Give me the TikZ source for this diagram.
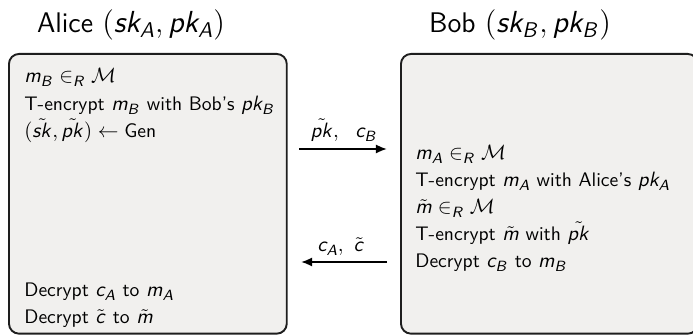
\RequirePackage{fix-cm}
\documentclass[tikz,border=0pt]{standalone}
\usepackage{amsmath}
\usetikzlibrary{arrows.meta}
\renewcommand\familydefault{\sfdefault}
% sans-serif italic letters in formulas, set a little larger than the text
\DeclareMathSizes{10.3}{10.9}{7.8}{5.8}
\DeclareMathSizes{14.9}{16}{11.2}{8}
\DeclareSymbolFont{sfit}{OT1}{cmss}{m}{sl}
\DeclareMathSymbol{A}{\mathalpha}{sfit}{`A}
\DeclareMathSymbol{B}{\mathalpha}{sfit}{`B}
\DeclareMathSymbol{R}{\mathalpha}{sfit}{`R}
\DeclareMathSymbol{c}{\mathalpha}{sfit}{`c}
\DeclareMathSymbol{k}{\mathalpha}{sfit}{`k}
\DeclareMathSymbol{m}{\mathalpha}{sfit}{`m}
\DeclareMathSymbol{p}{\mathalpha}{sfit}{`p}
\DeclareMathSymbol{s}{\mathalpha}{sfit}{`s}
\definecolor{boxgray}{HTML}{F1F0EE}
\definecolor{edge}{HTML}{1E1E1E}
\begin{document}
% one unit = one pixel of a 693 px wide slide (128 mm)
\begin{tikzpicture}[x=0.5255pt,y=-0.5255pt,
  party/.style={draw=edge, line width=1pt, fill=boxgray, rounded corners=5.3pt,
    minimum width=146pt, minimum height=147pt, anchor=north west, inner sep=0pt},
  stepline/.style={anchor=base west, inner sep=0pt, font=\fontsize{10.3}{12}\selectfont},
  who/.style={anchor=base, inner sep=0pt, font=\fontsize{14.9}{18}\selectfont},
  msglabel/.style={anchor=base, inner sep=0pt, font=\fontsize{10.3}{12}\selectfont},
  msg/.style={line width=1pt, -{Latex[length=5.8pt,width=4.8pt]}}]
\useasboundingbox (0,0) rectangle (693,335);

% parties
\node[who] (alicename) at (131,33) {Alice $(sk_A, pk_A)$};
\node[who] (bobname) at (520,33) {Bob $(sk_B, pk_B)$};

\node[party] (alice) at (8,53) {};
\node[party, minimum width=156pt] (bob) at (400,53) {};

% Alice's steps
\node[stepline] (a1) at (24,83) {$m_B \in_R \mathcal{M}$};
\node[stepline] (a2) at (24,111) {T-encrypt $m_B$ with Bob's $pk_B$};
\node[stepline] (a3) at (24,138) {$(\tilde{sk}, \tilde{pk}) \leftarrow \mbox{Gen}$};
\node[stepline] (a4) at (24,297) {Decrypt $c_A$ to $m_A$};
\node[stepline] (a5) at (24,324) {Decrypt $\tilde{c}$ to $\tilde{m}$};

% Bob's steps
\node[stepline] (b1) at (415,160) {$m_A \in_R \mathcal{M}$};
\node[stepline] (b2) at (415,187) {T-encrypt $m_A$ with Alice's $pk_A$};
\node[stepline] (b3) at (415,214) {$\tilde{m} \in_R \mathcal{M}$};
\node[stepline] (b4) at (415,241) {T-encrypt $\tilde{m}$ with $\tilde{pk}$};
\node[stepline] (b5) at (415,268) {Decrypt $c_B$ to $m_B$};

% messages
\coordinate (m1s) at (299,149);
\coordinate (m1e) at (387,149);
\coordinate (m2s) at (387,262);
\coordinate (m2e) at (301,262);
\draw[msg] (m1s) -- (m1e);
\draw[msg] (m2s) -- (m2e);
\node[msglabel] (l1) at (344,138) {$\tilde{pk},\ \ c_B$};
\node[msglabel] (l2) at (341,252) {$c_A,\ \tilde{c}$};
\end{tikzpicture}
\end{document}
